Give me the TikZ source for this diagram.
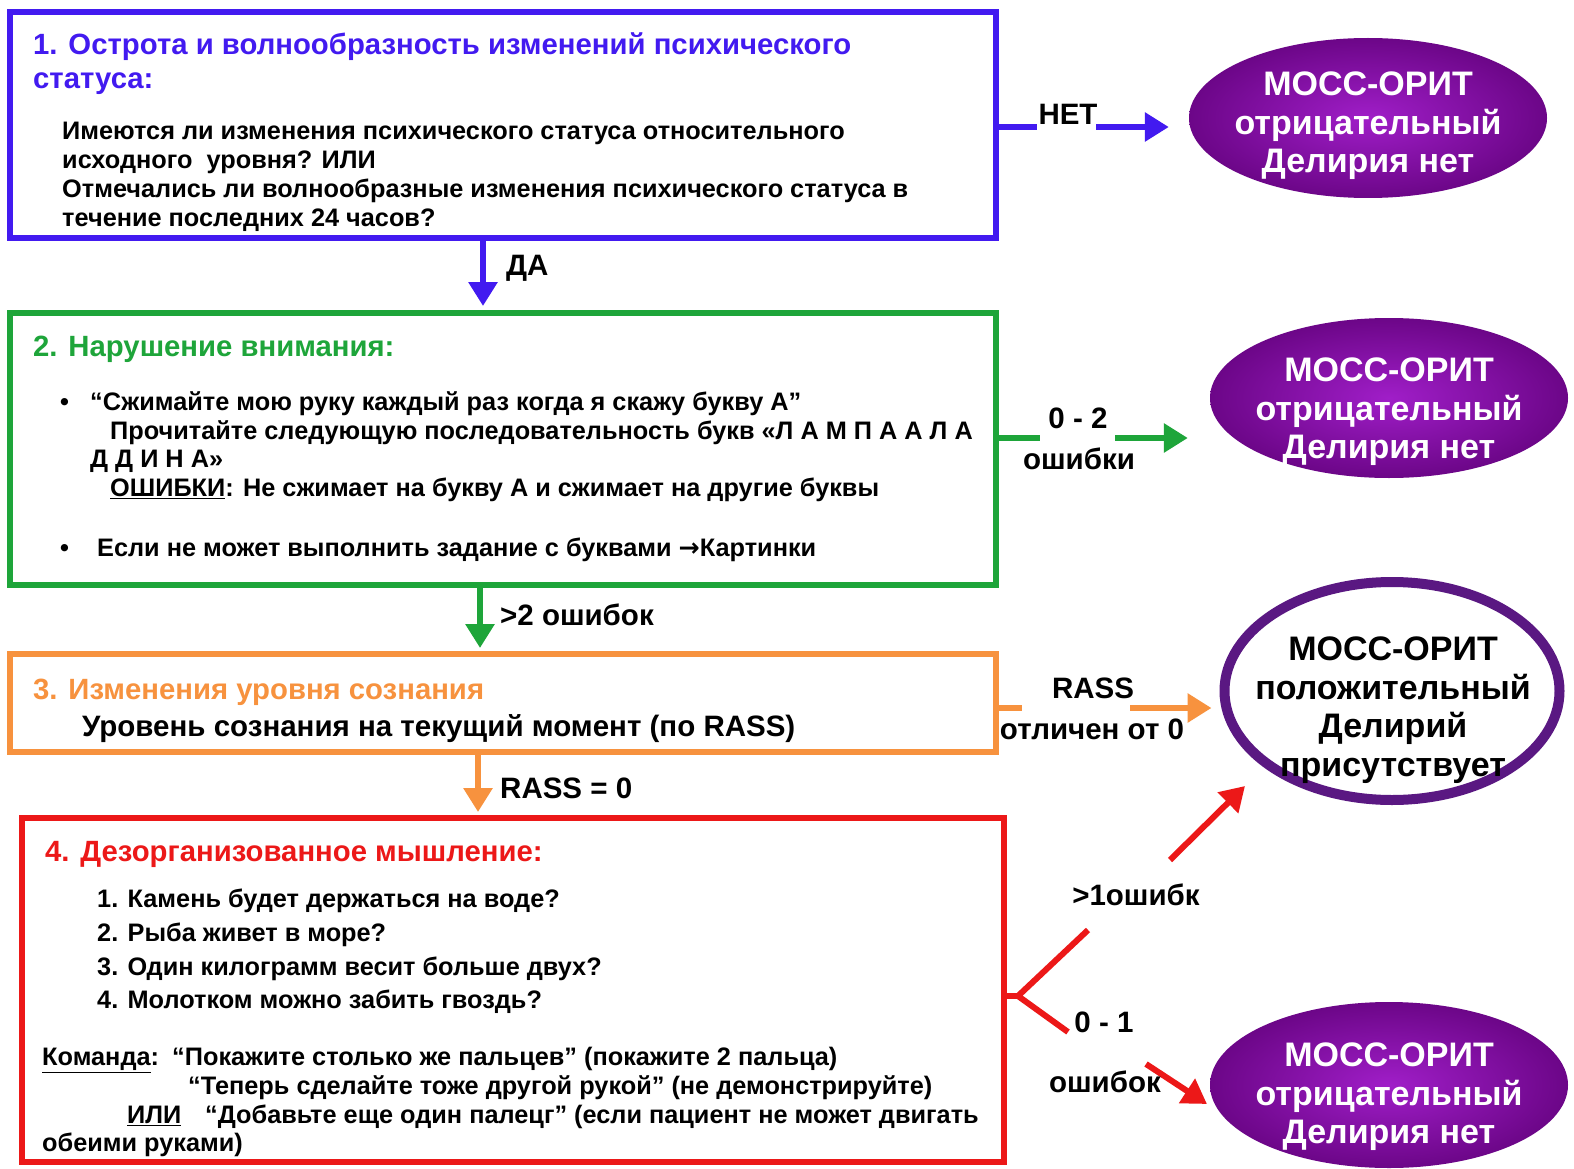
\documentclass[tikz,border=0pt]{standalone}
\usepackage{fontspec}
\setmainfont{Liberation Sans}
\newfontfamily\symfont{DejaVu Sans}
\usetikzlibrary{shapes.geometric,arrows.meta}
\definecolor{cblue}{RGB}{66,26,240}
\definecolor{cgreen}{RGB}{30,165,58}
\definecolor{corange}{RGB}{247,146,62}
\definecolor{cred}{RGB}{236,24,24}
\definecolor{cpurp}{RGB}{108,6,136}
\definecolor{cpurpl}{RGB}{160,30,200}
\definecolor{cpurpd}{RGB}{90,24,130}
\begin{document}
\begin{tikzpicture}[x=1pt,y=-1pt,
  box/.style={draw,line width=6pt,inner sep=0pt,outer sep=0pt,anchor=north west},
  txt/.style={anchor=mid west,inner sep=0pt,yshift=-6pt,font=\fontsize{25.3}{29}\selectfont\bfseries},
  ttl/.style={anchor=mid west,inner sep=0pt,yshift=-6pt,font=\fontsize{29.3}{33}\selectfont\bfseries},
  lbl/.style={inner sep=0pt,font=\fontsize{29.5}{33}\selectfont\bfseries},
  oval/.style={ellipse,inner color=cpurpl,outer color=cpurp,minimum width=358pt,minimum height=160pt,inner sep=0pt},
  otxt/.style={inner sep=0pt,align=center,font=\fontsize{34}{38.5}\selectfont\bfseries},
  arr/.style={line width=6pt,-{Triangle[length=24pt,width=28pt]}},
  ln/.style={line width=6pt}
]
\useasboundingbox[fill=white] (0,0) rectangle (1574,1169);

% boxes
\node[box,draw=cblue,minimum width=986pt,minimum height=226pt] (b1) at (10,12) {};
\node[box,draw=cgreen,minimum width=986pt,minimum height=272pt] (b2) at (10,313) {};
\node[box,draw=corange,minimum width=986pt,minimum height=98pt] (b3) at (10,654) {};
\node[box,draw=cred,minimum width=982pt,minimum height=344pt] (b4) at (22,818) {};

% box 1 text
\node[ttl,text=cblue] (t1a) at (33,46) {1. Острота и волнообразность изменений психического};
\node[ttl,text=cblue] (t1b) at (33,80) {статуса:};
\node[txt] (t1c) at (62,131) {Имеются ли изменения психического статуса относительного};
\node[txt] (t1d) at (62,160) {исходного\ \ уровня? ИЛИ};
\node[txt] (t1e) at (62,189) {Отмечались ли волнообразные изменения психического статуса в};
\node[txt] (t1f) at (62,218) {течение последних 24 часов?};

% box 2 text
\node[ttl,text=cgreen] (t2a) at (33,348) {2. Нарушение внимания:};
\node[txt] (t2b0) at (60,402) {•};
\node[txt] (t2b) at (90,402) {“Сжимайте мою руку каждый раз когда я скажу букву А”};
\node[txt] (t2c) at (110,431) {Прочитайте следующую последовательность букв «Л А М П А А Л А};
\node[txt] (t2d) at (90,459) {Д Д И Н А»};
\node[txt] (t2e) at (110,488) {\underline{ОШИБКИ}: Не сжимает на букву А и сжимает на другие буквы};
\node[txt] (t2f0) at (60,548) {•};
\node[txt] (t2f) at (97,548) {Если не может выполнить задание с буквами {\symfont →}Картинки};

% box 3 text
\node[ttl,text=corange] (t3a) at (33,691) {3. Изменения уровня сознания};
\node[txt,font=\fontsize{29.5}{33}\selectfont\bfseries] (t3b) at (82,728) {Уровень сознания на текущий момент (по RASS)};

% box 4 text
\node[ttl,text=cred] (t4a) at (45,853) {4. Дезорганизованное мышление:};
\node[txt] (t4b) at (97,899) {1. Камень будет держаться на воде?};
\node[txt] (t4c) at (97,933) {2. Рыба живет в море?};
\node[txt] (t4d) at (97,967) {3. Один килограмм весит больше двух?};
\node[txt] (t4e) at (97,1000) {4. Молотком можно забить гвоздь?};
\node[txt] (t4f) at (42,1057) {\underline{Команда}:};
\node[txt] (t4g) at (172,1057) {“Покажите столько же пальцев” (покажите 2 пальца)};
\node[txt] (t4h) at (188,1086) {“Теперь сделайте тоже другой рукой” (не демонстрируйте)};
\node[txt] (t4i) at (127,1115) {\underline{ИЛИ}};
\node[txt] (t4j) at (205,1115) {“Добавьте еще один палецг” (если пациент не может двигать};
\node[txt] (t4k) at (42,1143) {обеими руками)};

% ellipses
\node[oval] (e1) at (1368,118) {};
\node[otxt,text=white] (e1t) at (1368,126) {МОСС-ОРИТ\\отрицательный\\Делирия нет};
\node[oval] (e2) at (1389,398) {};
\node[otxt,text=white] (e2t) at (1389,412) {МОСС-ОРИТ\\отрицательный\\Делирия нет};
\node[oval,minimum height=166pt] (e4) at (1389,1085) {};
\node[otxt,text=white] (e4t) at (1389,1097) {МОСС-ОРИТ\\отрицательный\\Делирия нет};
\node[ellipse,draw=cpurpd,line width=10pt,fill=white,minimum width=335pt,minimum height=218pt] (e3) at (1392,691) {};
\node[otxt] (e3t) at (1393,710) {МОСС-ОРИТ\\положительный\\Делирий\\присутствует};

% coordinates for connector bends
\coordinate (x1) at (483,0);
\coordinate (x2) at (480,0);
\coordinate (x3) at (478,0);
\coordinate (n1) at (1037,127);
\coordinate (n2) at (1096,127);
\coordinate (g1) at (1040,438);
\coordinate (g2) at (1115,438);
\coordinate (o1) at (1022,708);
\coordinate (o2) at (1130,708);
\coordinate (r0) at (1018,996);
\coordinate (r1) at (1088,930);
\coordinate (r2) at (1068,1032);
\coordinate (r3) at (1170,860);
\coordinate (r4) at (1245,786);
\coordinate (r5) at (1146,1064);
\coordinate (r6) at (1207,1104);

% vertical arrows
\draw[arr,draw=cblue,fill=cblue,shorten >=7pt] (b1.south -| x1) -- (b2.north -| x1);
\draw[arr,draw=cgreen,fill=cgreen,shorten >=6pt] (b2.south -| x2) -- (b3.north -| x2);
\draw[arr,draw=corange,fill=corange,shorten >=6pt] (b3.south -| x3) -- (b4.north -| x3);
\node[lbl,anchor=west] (l1) at (506,268) {ДА};
\node[lbl,anchor=west] (l2) at (500,615) {>2 ошибок};
\node[lbl,anchor=west] (l3) at (500,788) {RASS = 0};

% right connectors
\draw[ln,draw=cblue] (b1.east |- n1) -- (n1);
\draw[arr,draw=cblue,fill=cblue,shorten >=20pt] (n2) -- (e1.west |- n2);
\node[lbl] (l4) at (1068,114) {НЕТ};

\draw[ln,draw=cgreen] (b2.east |- g1) -- (g1);
\draw[arr,draw=cgreen,fill=cgreen,shorten >=22pt] (g2) -- (e2.west |- g2);
\node[lbl] (l5) at (1078,418) {0 - 2};
\node[lbl] (l6) at (1079,459) {ошибки};

\draw[ln,draw=corange] (b3.east |- o1) -- (o1);
\draw[arr,draw=corange,fill=corange,shorten >=8pt] (o2) -- (e3.west |- o2);
\node[lbl] (l7) at (1093,688) {RASS};
\node[lbl] (l8) at (1092,729) {отличен от 0};

\draw[ln,draw=cred,line join=miter] (r1) -- (r0) -- (r2);
\draw[ln,draw=cred] (b4.east |- r0) -- (r0);
\draw[arr,draw=cred,fill=cred] (r3) -- (r4);
\draw[arr,draw=cred,fill=cred] (r5) -- (r6);
\node[lbl] (l9) at (1136,895) {>1ошибк};
\node[lbl] (l10) at (1104,1022) {0 - 1};
\node[lbl] (l11) at (1105,1082) {ошибок};
\end{tikzpicture}
\end{document}
